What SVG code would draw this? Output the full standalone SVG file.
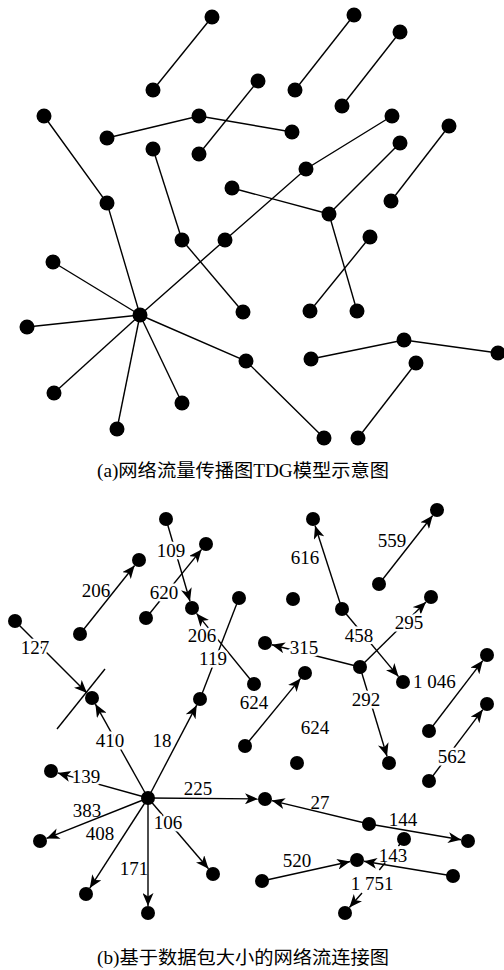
<svg xmlns="http://www.w3.org/2000/svg" width="504" height="970" viewBox="0 0 504 970">
<style>
.e{stroke:#000;stroke-width:1.4;fill:none}
.a{stroke:#000;stroke-width:1.4;fill:none;marker-end:url(#ah)}
.n{fill:#000}
.t{font-family:"Liberation Serif","Times New Roman",serif;font-size:19px;fill:#000;text-anchor:middle}
.h{stroke:#fff;stroke-width:5;paint-order:stroke;stroke-linejoin:round}
.cap{font-family:"Liberation Serif","Noto Sans CJK SC",serif;font-size:18px;fill:#000}
</style>
<defs>
<marker id="ah" markerUnits="userSpaceOnUse" markerWidth="13" markerHeight="11" refX="13" refY="5.5" orient="auto">
<path d="M0,0 L13,5.5 L0,11 L3.5,5.5 z" fill="#000"/>
</marker>
</defs>
<rect width="504" height="970" fill="#fff"/>

<!-- (a) connectors -->
<g id="connectors-a">
<line class="e" x1="212" y1="17" x2="153" y2="90"/>
<polyline class="e" points="107,138 199,116 292,132"/>
<line class="e" x1="153" y1="149" x2="182" y2="240"/>
<line class="e" x1="199" y1="154" x2="258" y2="81"/>
<polyline class="e" points="44,116 107,203 140,315"/>
<line class="e" x1="232" y1="188" x2="329" y2="214"/>
<line class="e" x1="329" y1="214" x2="357" y2="311"/>
<line class="e" x1="400" y1="143" x2="329" y2="214"/>
<line class="e" x1="354" y1="15" x2="295" y2="90"/>
<line class="e" x1="400" y1="32" x2="342" y2="106"/>
<polyline class="e" points="392,116 306,169 225,240 140,315"/>
<line class="e" x1="449" y1="126" x2="391" y2="201"/>
<line class="e" x1="370" y1="237" x2="310" y2="311"/>
<polyline class="e" points="311,359 404,340 498,353"/>
<line class="e" x1="416" y1="363" x2="358" y2="438"/>
<polyline class="e" points="140,315 246,361 324,438"/>
<line class="e" x1="140" y1="315" x2="53" y2="262"/>
<line class="e" x1="140" y1="315" x2="27" y2="327"/>
<line class="e" x1="140" y1="315" x2="54" y2="393"/>
<line class="e" x1="140" y1="315" x2="117" y2="429"/>
<line class="e" x1="140" y1="315" x2="182" y2="403"/>
<line class="e" x1="182" y1="240" x2="243" y2="312"/>
</g>

<!-- (a) nodes -->
<g id="nodes-a">
<g id="a1"><circle class="n" cx="212" cy="17" r="7.5"/></g>
<g id="a2"><circle class="n" cx="153" cy="90" r="7.5"/></g>
<g id="a3"><circle class="n" cx="44" cy="116" r="7.5"/></g>
<g id="a4"><circle class="n" cx="199" cy="116" r="7.5"/></g>
<g id="a5"><circle class="n" cx="107" cy="138" r="7.5"/></g>
<g id="a6"><circle class="n" cx="292" cy="132" r="7.5"/></g>
<g id="a7"><circle class="n" cx="153" cy="149" r="7.5"/></g>
<g id="a8"><circle class="n" cx="199" cy="154" r="7.5"/></g>
<g id="a9"><circle class="n" cx="258" cy="81" r="7.5"/></g>
<g id="a10"><circle class="n" cx="107" cy="203" r="7.5"/></g>
<g id="a11"><circle class="n" cx="232" cy="188" r="7.5"/></g>
<g id="a12"><circle class="n" cx="329" cy="214" r="7.5"/></g>
<g id="a13"><circle class="n" cx="182" cy="240" r="7.5"/></g>
<g id="a14"><circle class="n" cx="225" cy="240" r="7.5"/></g>
<g id="a15"><circle class="n" cx="354" cy="15" r="7.5"/></g>
<g id="a16"><circle class="n" cx="295" cy="90" r="7.5"/></g>
<g id="a17"><circle class="n" cx="400" cy="32" r="7.5"/></g>
<g id="a18"><circle class="n" cx="342" cy="106" r="7.5"/></g>
<g id="a19"><circle class="n" cx="392" cy="116" r="7.5"/></g>
<g id="a20"><circle class="n" cx="306" cy="169" r="7.5"/></g>
<g id="a21"><circle class="n" cx="400" cy="143" r="7.5"/></g>
<g id="a22"><circle class="n" cx="449" cy="126" r="7.5"/></g>
<g id="a23"><circle class="n" cx="391" cy="201" r="7.5"/></g>
<g id="a24"><circle class="n" cx="370" cy="237" r="7.5"/></g>
<g id="a25"><circle class="n" cx="357" cy="311" r="7.5"/></g>
<g id="a26"><circle class="n" cx="310" cy="311" r="7.5"/></g>
<g id="a27"><circle class="n" cx="404" cy="340" r="7.5"/></g>
<g id="a28"><circle class="n" cx="311" cy="359" r="7.5"/></g>
<g id="a29"><circle class="n" cx="498" cy="353" r="7.5"/></g>
<g id="a30"><circle class="n" cx="416" cy="363" r="7.5"/></g>
<g id="a31"><circle class="n" cx="358" cy="438" r="7.5"/></g>
<g id="a32"><circle class="n" cx="324" cy="438" r="7.5"/></g>
<g id="a33"><circle class="n" cx="246" cy="361" r="7.5"/></g>
<g id="a-hub"><circle class="n" cx="140" cy="315" r="7.5"/></g>
<g id="a34"><circle class="n" cx="53" cy="262" r="7.5"/></g>
<g id="a35"><circle class="n" cx="27" cy="327" r="7.5"/></g>
<g id="a36"><circle class="n" cx="54" cy="393" r="7.5"/></g>
<g id="a37"><circle class="n" cx="117" cy="429" r="7.5"/></g>
<g id="a38"><circle class="n" cx="182" cy="403" r="7.5"/></g>
<g id="a39"><circle class="n" cx="243" cy="312" r="7.5"/></g>
</g>

<text class="cap" x="97" y="477" textLength="292" lengthAdjust="spacingAndGlyphs">(a)网络流量传播图TDG模型示意图</text>

<!-- (b) connectors -->
<g id="connectors-b">
<line class="a" x1="166" y1="519" x2="190" y2="601.3"/>
<line class="a" x1="146" y1="618" x2="201.6" y2="549.4"/>
<line class="a" x1="80" y1="634" x2="134.6" y2="565.5"/>
<line class="a" x1="15" y1="621" x2="87" y2="693"/>
<line class="e" x1="105" y1="669" x2="57" y2="729"/>
<line class="a" x1="148" y1="798" x2="95.4" y2="704.1"/>
<line class="a" x1="148" y1="798" x2="196.7" y2="705.2"/>
<line class="e" x1="239" y1="598" x2="200" y2="699"/>
<line class="a" x1="254" y1="684" x2="196.5" y2="613.4"/>
<line class="a" x1="342" y1="609" x2="315.1" y2="525.7"/>
<line class="a" x1="379" y1="584" x2="432.7" y2="515.5"/>
<line class="a" x1="360" y1="667" x2="426" y2="601.9"/>
<line class="a" x1="360" y1="667" x2="271.8" y2="644.7"/>
<line class="a" x1="342" y1="609" x2="398.5" y2="676.6"/>
<line class="a" x1="360" y1="667" x2="387" y2="756.3"/>
<line class="a" x1="245" y1="746" x2="300.6" y2="678.4"/>
<line class="a" x1="429" y1="731" x2="482.8" y2="660.6"/>
<line class="a" x1="429" y1="781" x2="482.8" y2="709.6"/>
<line class="a" x1="148" y1="798" x2="57.7" y2="772.9"/>
<line class="a" x1="148" y1="798" x2="258" y2="798.9"/>
<line class="a" x1="148" y1="798" x2="46.5" y2="838.4"/>
<line class="a" x1="148" y1="798" x2="89.8" y2="888.1"/>
<line class="a" x1="148" y1="798" x2="208.5" y2="868.7"/>
<line class="a" x1="148" y1="798" x2="148" y2="906"/>
<line class="a" x1="369" y1="824" x2="271.8" y2="800.6"/>
<line class="a" x1="369" y1="824" x2="461.1" y2="839.8"/>
<line class="a" x1="453" y1="876" x2="363.9" y2="861.2"/>
<line class="a" x1="262" y1="881" x2="350.2" y2="861.5"/>
<path class="a" d="M404,839 L398.4,846 M385.3,862.5 L379.3,870 M362,893 L349.4,907.5"/>
</g>

<!-- (b) labels -->
<g id="labels-b">
<text class="t h" x="171" y="557">109</text>
<text class="t h" x="164" y="599">620</text>
<text class="t" x="96" y="597">206</text>
<text class="t h" x="35" y="654">127</text>
<text class="t h" x="202" y="642">206</text>
<text class="t h" x="213" y="665">119</text>
<text class="t" x="254" y="709">624</text>
<text class="t" x="305" y="564">616</text>
<text class="t" x="392" y="547">559</text>
<text class="t h" x="409" y="629">295</text>
<text class="t h" x="359" y="642">458</text>
<text class="t h" x="304" y="654">315</text>
<text class="t" x="413" y="688" style="text-anchor:start">1 046</text>
<text class="t h" x="366" y="706">292</text>
<text class="t" x="315" y="734">624</text>
<text class="t h" x="452" y="763">562</text>
<text class="t" x="320" y="809">27</text>
<text class="t" x="403" y="826">144</text>
<text class="t" x="393" y="862">143</text>
<text class="t" x="372" y="890">1 751</text>
<text class="t" x="297" y="867">520</text>
<text class="t h" x="110" y="747">410</text>
<text class="t" x="162" y="747">18</text>
<text class="t h" x="86" y="783">139</text>
<text class="t" x="198" y="795">225</text>
<text class="t" x="87" y="817">383</text>
<text class="t" x="100" y="840">408</text>
<text class="t h" x="168" y="829">106</text>
<text class="t" x="134" y="875">171</text>
</g>

<!-- (b) nodes -->
<g id="nodes-b">
<g id="b1"><circle class="n" cx="166" cy="519" r="7"/></g>
<g id="b2"><circle class="n" cx="192" cy="608" r="7"/></g>
<g id="b3"><circle class="n" cx="206" cy="544" r="7"/></g>
<g id="b4"><circle class="n" cx="146" cy="618" r="7"/></g>
<g id="b5"><circle class="n" cx="139" cy="560" r="7"/></g>
<g id="b6"><circle class="n" cx="80" cy="634" r="7"/></g>
<g id="b7"><circle class="n" cx="15" cy="621" r="7"/></g>
<g id="b8"><circle class="n" cx="92" cy="698" r="7"/></g>
<g id="b9"><circle class="n" cx="239" cy="598" r="7"/></g>
<g id="b10"><circle class="n" cx="200" cy="699" r="7"/></g>
<g id="b11"><circle class="n" cx="254" cy="684" r="7"/></g>
<g id="b12"><circle class="n" cx="313" cy="519" r="7"/></g>
<g id="b13"><circle class="n" cx="342" cy="609" r="7"/></g>
<g id="b14"><circle class="n" cx="437" cy="510" r="7"/></g>
<g id="b15"><circle class="n" cx="379" cy="584" r="7"/></g>
<g id="b16"><circle class="n" cx="293" cy="599" r="7"/></g>
<g id="b17"><circle class="n" cx="431" cy="597" r="7"/></g>
<g id="b18"><circle class="n" cx="360" cy="667" r="7"/></g>
<g id="b19"><circle class="n" cx="265" cy="643" r="7"/></g>
<g id="b20"><circle class="n" cx="403" cy="682" r="7"/></g>
<g id="b21"><circle class="n" cx="389" cy="763" r="7"/></g>
<g id="b22"><circle class="n" cx="305" cy="673" r="7"/></g>
<g id="b23"><circle class="n" cx="245" cy="746" r="7"/></g>
<g id="b24"><circle class="n" cx="487" cy="655" r="7"/></g>
<g id="b25"><circle class="n" cx="429" cy="731" r="7"/></g>
<g id="b26"><circle class="n" cx="487" cy="704" r="7"/></g>
<g id="b27"><circle class="n" cx="429" cy="781" r="7"/></g>
<g id="b-hub"><circle class="n" cx="148" cy="798" r="7"/></g>
<g id="b28"><circle class="n" cx="51" cy="771" r="7"/></g>
<g id="b29"><circle class="n" cx="265" cy="799" r="7"/></g>
<g id="b30"><circle class="n" cx="40" cy="841" r="7"/></g>
<g id="b31"><circle class="n" cx="86" cy="894" r="7"/></g>
<g id="b32"><circle class="n" cx="213" cy="874" r="7"/></g>
<g id="b33"><circle class="n" cx="148" cy="913" r="7"/></g>
<g id="b34"><circle class="n" cx="297" cy="763" r="7"/></g>
<g id="b35"><circle class="n" cx="369" cy="824" r="7"/></g>
<g id="b36"><circle class="n" cx="468" cy="841" r="7"/></g>
<g id="b37"><circle class="n" cx="404" cy="839" r="7"/></g>
<g id="b38"><circle class="n" cx="453" cy="876" r="7"/></g>
<g id="b39"><circle class="n" cx="357" cy="860" r="7"/></g>
<g id="b40"><circle class="n" cx="262" cy="881" r="7"/></g>
<g id="b41"><circle class="n" cx="345" cy="913" r="7"/></g>
</g>

<text class="cap" x="97" y="964" textLength="292" lengthAdjust="spacingAndGlyphs">(b)基于数据包大小的网络流连接图</text>
</svg>
